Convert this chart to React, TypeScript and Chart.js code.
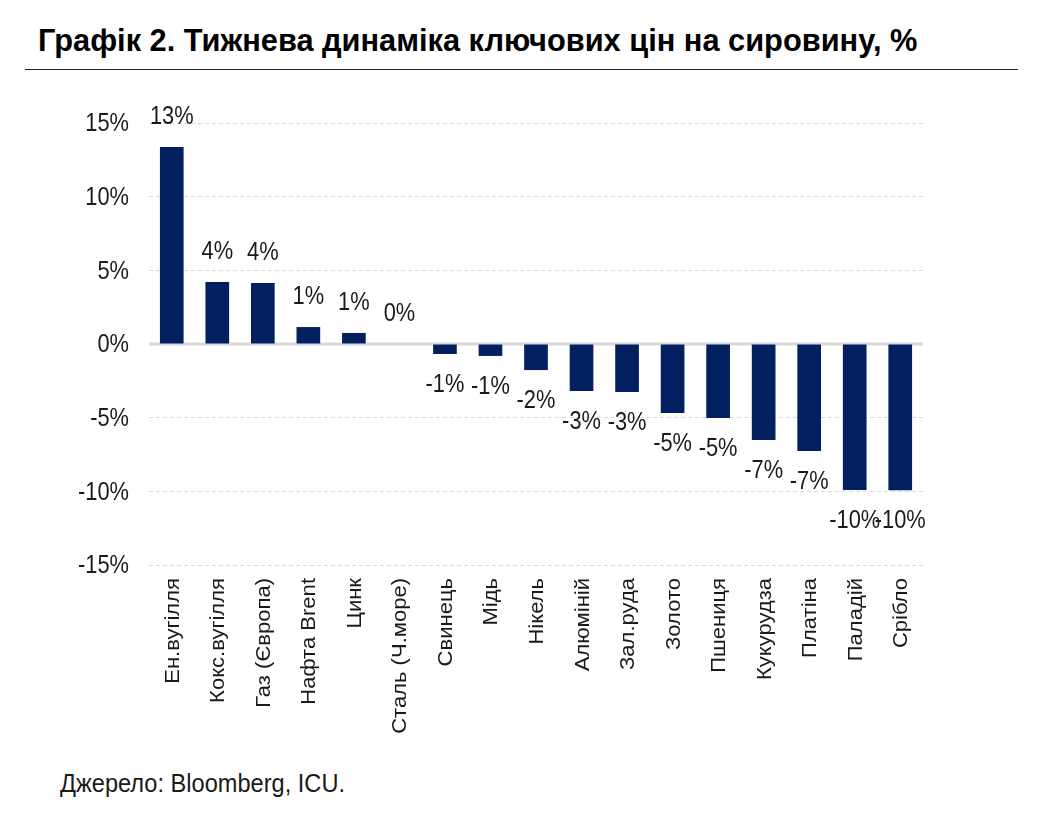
import React, { useEffect, useRef } from "react";
import { Chart, registerables } from "chart.js";

Chart.register(...registerables);

const categories = [
  "Ен.вугілля",
  "Кокс.вугілля",
  "Газ (Європа)",
  "Нафта Brent",
  "Цинк",
  "Сталь (Ч.море)",
  "Свинець",
  "Мідь",
  "Нікель",
  "Алюміній",
  "Зал.руда",
  "Золото",
  "Пшениця",
  "Кукурудза",
  "Платіна",
  "Паладій",
  "Срібло",
];

const values = [
  13.37, 4.21, 4.14, 1.15, 0.75, 0.0, -0.68, -0.81, -1.77, -3.19, -3.26, -4.68,
  -5.02, -6.52, -7.26, -9.91, -9.93,
];

const yMin = -15;
const yMax = 15;
const yStep = 5;

const TITLE = "Графік 2. Тижнева динаміка ключових цін на сировину, %";
const SOURCE = "Джерело: Bloomberg, ICU.";

const FONT = "'Liberation Sans', Arial, sans-serif";
const BAR_COLOR = "#022060";
const TEXT_COLOR = "#1a1a1a";

// horizontal text: font size and horizontal compression
const H_SIZE = 26;
const H_SCALE = 0.84;
// rotated category labels
const C_SIZE = 19.5;
const C_STRETCH = 1.13;

function drawHText(ctx: any, txt: string, x: number, y: number, align: "left" | "right" | "center") {
  ctx.save();
  ctx.translate(x, y);
  ctx.scale(H_SCALE, 1);
  ctx.font = `${H_SIZE}px ${FONT}`;
  ctx.fillStyle = TEXT_COLOR;
  ctx.textAlign = align;
  ctx.textBaseline = "middle";
  ctx.fillText(txt, 0, 0);
  ctx.restore();
}

const zeroLinePlugin = {
  id: "zeroLine",
  beforeDatasetsDraw(chart: any) {
    const { ctx, chartArea, scales } = chart;
    const y = scales.y.getPixelForValue(0);
    ctx.save();
    ctx.strokeStyle = "#d9d9d9";
    ctx.lineWidth = 3;
    ctx.beginPath();
    ctx.moveTo(chartArea.left, y);
    ctx.lineTo(chartArea.right, y);
    ctx.stroke();
    ctx.restore();
  },
};

const textPlugin = {
  id: "texts",
  afterDatasetsDraw(chart: any) {
    const { ctx, chartArea, scales } = chart;
    // y-axis tick labels
    scales.y.ticks.forEach((t: any) => {
      const y = scales.y.getPixelForValue(t.value);
      drawHText(ctx, `${t.value}%`, chartArea.left - 20, y + 1, "right");
    });
    // category labels (rotated, reading bottom to top)
    categories.forEach((c, i) => {
      const x = scales.x.getPixelForValue(i);
      ctx.save();
      ctx.translate(x + 7, chartArea.bottom + 13);
      ctx.rotate(-Math.PI / 2);
      ctx.scale(C_STRETCH, 1);
      ctx.font = `${C_SIZE}px ${FONT}`;
      ctx.fillStyle = TEXT_COLOR;
      ctx.textAlign = "right";
      ctx.textBaseline = "alphabetic";
      ctx.fillText(c, 0, 0);
      ctx.restore();
    });
    // value labels
    const meta = chart.getDatasetMeta(0);
    const data = chart.data.datasets[0].data as number[];
    meta.data.forEach((bar: any, i: number) => {
      const v = data[i];
      const r = Math.round(v);
      const txt = (r === 0 ? 0 : r) + "%";
      const y = v >= 0 ? bar.y - 30 : bar.y + 31;
      drawHText(ctx, txt, bar.x, y, "center");
    });
  },
};

export default function App() {
  const ref = useRef<HTMLCanvasElement | null>(null);
  const titleRef = useRef<HTMLSpanElement | null>(null);
  const srcRef = useRef<HTMLSpanElement | null>(null);

  useEffect(() => {
    const fit = (el: HTMLSpanElement | null, w: number) => {
      if (!el) return;
      const nat = el.offsetWidth;
      if (nat > 0) el.style.transform = `scaleX(${w / nat})`;
    };
    fit(titleRef.current, 879);
    fit(srcRef.current, 285);

    if (!ref.current) return;
    const chart = new Chart(ref.current, {
      type: "bar",
      data: {
        labels: categories,
        datasets: [
          {
            data: values,
            backgroundColor: BAR_COLOR,
            borderWidth: 0,
            barPercentage: 0.52,
            categoryPercentage: 1,
          },
        ],
      },
      options: {
        animation: false,
        responsive: false,
        maintainAspectRatio: false,
        layout: { padding: { top: 33, right: 77, left: 0, bottom: 0 } },
        plugins: {
          legend: { display: false },
          tooltip: { enabled: false },
        },
        scales: {
          x: {
            grid: { display: false, drawTicks: false },
            border: { display: false },
            ticks: { display: false, autoSkip: false },
            afterFit(scale: any) {
              scale.height = 175;
            },
          },
          y: {
            min: yMin,
            max: yMax,
            grid: {
              drawTicks: false,
              color: (ctx: any) =>
                ctx.tick && ctx.tick.value === 0 ? "rgba(0,0,0,0)" : "#d9d9d9",
              lineWidth: 1,
            },
            border: { display: false, dash: [4, 3] },
            ticks: { display: false, stepSize: yStep },
            afterFit(scale: any) {
              scale.width = 109;
            },
          },
        },
      },
      plugins: [zeroLinePlugin, textPlugin],
    });
    return () => chart.destroy();
  }, []);

  return (
    <div style={{ position: "relative", width: 1028, height: 811, background: "#fff" }}>
      <div
        style={{
          position: "absolute",
          left: 30,
          top: 16,
          fontFamily: FONT,
          fontWeight: "bold",
          fontSize: 32,
          color: "#000",
          whiteSpace: "nowrap",
          lineHeight: 1,
        }}
      >
        <span ref={titleRef} style={{ display: "inline-block", transformOrigin: "0 0" }}>
          {TITLE}
        </span>
      </div>
      <div
        style={{
          position: "absolute",
          left: 17,
          top: 61,
          width: 993,
          height: 0,
          borderTop: "1.5px solid #222",
        }}
      />
      <canvas
        ref={ref}
        width={960}
        height={650}
        style={{ position: "absolute", left: 32, top: 82, width: 960, height: 650 }}
      />
      <div
        style={{
          position: "absolute",
          left: 52,
          top: 763,
          fontFamily: FONT,
          fontSize: 25,
          color: TEXT_COLOR,
          whiteSpace: "nowrap",
          lineHeight: 1,
        }}
      >
        <span ref={srcRef} style={{ display: "inline-block", transformOrigin: "0 0" }}>
          {SOURCE}
        </span>
      </div>
    </div>
  );
}
